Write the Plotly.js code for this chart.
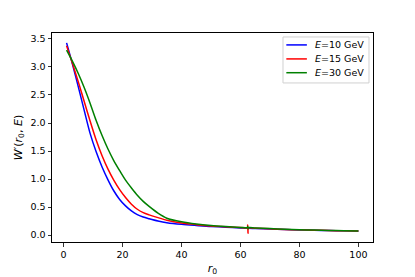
<!DOCTYPE html>
<html>
<head>
<meta charset="utf-8">
<script src="https://cdn.plot.ly/plotly-3.0.1.min.js"></script>
<style>html,body{margin:0;padding:0;background:#fff;}#chart{width:415px;height:277px;}</style>
</head>
<body>
<div id="chart"></div>
<script>
const r0 = [1, 3, 5, 7, 9, 11, 13, 15, 17, 19, 21, 23, 25, 27, 29, 32, 35, 40, 45, 50, 55, 60, 62.3, 62.45, 62.55, 62.7, 65, 70, 75, 80, 85, 90, 95, 100];
const wE10 = [3.43, 3.05, 2.64, 2.22, 1.81, 1.49, 1.22, 0.99, 0.79, 0.635, 0.52, 0.43, 0.365, 0.32, 0.29, 0.25, 0.22, 0.19, 0.17, 0.152, 0.14, 0.127, 0.122, 0.122, 0.122, 0.121, 0.116, 0.106, 0.098, 0.091, 0.085, 0.08, 0.075, 0.07];
const wE15 = [3.38, 3.06, 2.73, 2.38, 2.03, 1.70, 1.42, 1.18, 0.98, 0.81, 0.67, 0.55, 0.46, 0.40, 0.36, 0.31, 0.265, 0.215, 0.185, 0.162, 0.146, 0.132, 0.127, 0.18, 0.03, 0.126, 0.12, 0.11, 0.10, 0.092, 0.086, 0.08, 0.075, 0.07];
const wE30 = [3.30, 3.10, 2.88, 2.63, 2.35, 2.05, 1.78, 1.54, 1.33, 1.15, 0.98, 0.84, 0.71, 0.60, 0.51, 0.39, 0.30, 0.235, 0.195, 0.168, 0.15, 0.136, 0.131, 0.15, 0.11, 0.13, 0.125, 0.114, 0.104, 0.095, 0.088, 0.081, 0.076, 0.071];
const seriesNames = ['E=10 GeV', 'E=15 GeV', 'E=30 GeV'];
const legendLabels = ['<i>E</i>=10 GeV', '<i>E</i>=15 GeV', '<i>E</i>=30 GeV'];
const colors = ['#0000ff', '#ff0000', '#008000'];
const xTicks = [0, 20, 40, 60, 80, 100];
const yTicks = [0, 0.5, 1, 1.5, 2, 2.5, 3, 3.5];

const ys = [wE10, wE15, wE30];
const data = ys.map((y, i) => ({
  x: r0, y: y, type: 'scatter', mode: 'lines', name: seriesNames[i],
  line: {color: colors[i], width: 1.5, shape: 'spline', smoothing: 0.8}, showlegend: false
}));

// Manual legend (matplotlib-style compact legend box)
const legBox = {x0: 0.7196, x1: 0.9875, y0: 0.761, y1: 0.981};
const itemY = [0.943, 0.876, 0.810];
const shapes = [{
  type: 'rect', xref: 'paper', yref: 'paper', x0: legBox.x0, x1: legBox.x1, y0: legBox.y0, y1: legBox.y1,
  line: {color: '#d0d0d0', width: 1}, fillcolor: 'rgba(255,255,255,0.8)', layer: 'above'
}];
const annotations = [];
itemY.forEach((yy, i) => {
  shapes.push({type: 'line', xref: 'paper', yref: 'paper', x0: 0.730, x1: 0.794, y0: yy, y1: yy,
               line: {color: colors[i], width: 1.5}, layer: 'above'});
  annotations.push({xref: 'paper', yref: 'paper', x: 0.814, y: yy, xanchor: 'left', yanchor: 'middle',
                    text: legendLabels[i], showarrow: false,
                    font: {family: 'DejaVu Sans, sans-serif', size: 9.5, color: '#000'}});
});

const font = {family: 'DejaVu Sans, sans-serif', size: 9.5, color: '#000'};
const layout = {
  width: 415, height: 277,
  margin: {l: 52, r: 42, t: 33, b: 35},
  paper_bgcolor: '#fff', plot_bgcolor: '#fff',
  font: font,
  showlegend: false,
  shapes: shapes,
  annotations: annotations,
  xaxis: {range: [-3.95, 104.95], tickvals: xTicks, ticktext: xTicks.map(String),
          showgrid: false, zeroline: false, showline: true, mirror: true, linecolor: '#000', linewidth: 1,
          ticks: 'outside', ticklen: 3.5, tickwidth: 0.8, tickcolor: '#000',
          title: {text: '<i>r</i><sub>0</sub>', font: {family: 'DejaVu Sans, sans-serif', size: 11}, standoff: 5}},
  yaxis: {range: [-0.125, 3.607], tickvals: yTicks, ticktext: yTicks.map(v => v.toFixed(1)),
          showgrid: false, zeroline: false, showline: true, mirror: true, linecolor: '#000', linewidth: 1,
          ticks: 'outside', ticklen: 3.5, tickwidth: 0.8, tickcolor: '#000',
          title: {text: '<i>W</i>′(<i>r</i><sub>0</sub>, <i>E</i>)', font: {family: 'DejaVu Sans, sans-serif', size: 11}, standoff: 5}}
};
Plotly.newPlot('chart', data, layout, {displayModeBar: false, staticPlot: true});
</script>
</body>
</html>
